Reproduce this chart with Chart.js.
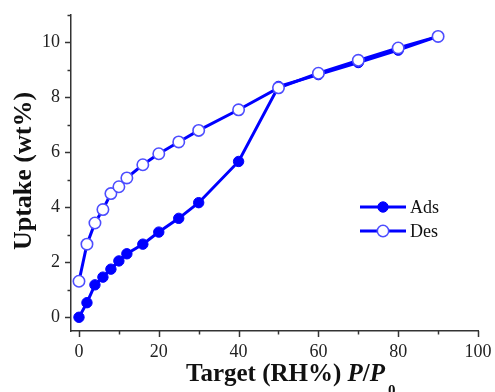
<!DOCTYPE html>
<html><head><meta charset="utf-8">
<script src="https://cdn.jsdelivr.net/npm/chart.js@4/dist/chart.umd.min.js"></script>
<style>html,body{margin:0;padding:0;background:#fff}</style>
</head><body>
<canvas id="c" width="495" height="392" style="width:495px;height:392px;display:block"></canvas>
<script>
const rh = [0, 2, 4, 6, 8, 10, 12, 16, 20, 25, 30, 40, 50, 60, 70, 80, 90];
const adsUptake = [0, 0.53, 1.18, 1.46, 1.75, 2.05, 2.31, 2.66, 3.1, 3.6, 4.17, 5.67, 8.4, 8.83, 9.27, 9.72, 10.22];
const desUptake = [1.31, 2.66, 3.43, 3.92, 4.5, 4.75, 5.07, 5.55, 5.95, 6.38, 6.8, 7.55, 8.35, 8.88, 9.35, 9.8, 10.22];
const xTickValues = [0, 10, 20, 30, 40, 50, 60, 70, 80, 90, 100];
const yTickValues = [0, 1, 2, 3, 4, 5, 6, 7, 8, 9, 10, 11];
const seriesNames = ['Ads', 'Des'];
const yTitle = 'Uptake (wt%)';
const xTitleParts = ['Target (RH%) ', 'P', '/', 'P', '0'];

const BLUE = '#0000ff';
const SERIF = '"Liberation Serif", "Times New Roman", serif';

const decorPlugin = {
  id: 'decor',
  afterDraw(chart) {
    const ctx = chart.ctx;
    const xs = chart.scales.x, ys = chart.scales.y;
    const ca = chart.chartArea;
    ctx.save();
    ctx.strokeStyle = '#333';
    ctx.lineWidth = 1.5;
    yTickValues.forEach(v => {
      const y = Math.round(ys.getPixelForValue(v)) + 0.5;
      const len = v % 2 === 0 ? 6 : 3.5;
      ctx.beginPath(); ctx.moveTo(ca.left, y); ctx.lineTo(ca.left - len, y); ctx.stroke();
    });
    xTickValues.forEach(v => {
      const x = Math.round(xs.getPixelForValue(v)) + 0.5;
      const len = v % 20 === 0 ? 6 : 3.5;
      ctx.beginPath(); ctx.moveTo(x, ca.bottom); ctx.lineTo(x, ca.bottom + len); ctx.stroke();
    });
    // legend
    const legY = [207, 231];
    chart.data.datasets.slice().sort((a,b)=>a.legendIndex-b.legendIndex).forEach((ds, i) => {
      const y = legY[i];
      ctx.strokeStyle = BLUE; ctx.lineWidth = 3;
      ctx.beginPath(); ctx.moveTo(360, y); ctx.lineTo(406, y); ctx.stroke();
      ctx.beginPath(); ctx.arc(383, y, ds.pointRadius, 0, Math.PI * 2);
      ctx.fillStyle = ds.pointBackgroundColor; ctx.fill();
      ctx.lineWidth = ds.pointBorderWidth; ctx.strokeStyle = ds.pointBorderColor; ctx.stroke();
      ctx.fillStyle = '#111';
      ctx.font = '18px ' + SERIF;
      ctx.textBaseline = 'middle'; ctx.textAlign = 'left';
      ctx.fillText(ds.label, 410, y + 1);
    });
    // x title
    ctx.fillStyle = '#111';
    ctx.textBaseline = 'alphabetic'; ctx.textAlign = 'left';
    const fN = 'bold 25px ' + SERIF, fI = 'italic bold 25px ' + SERIF, fS = 'bold 15px ' + SERIF;
    const fonts = [fN, fI, fN, fI, fS];
    let x = 186;
    const base = 381;
    xTitleParts.forEach((t, i) => {
      ctx.font = fonts[i];
      if (i === 4) x += 3;
      ctx.fillText(t, x, i === 4 ? base + 14 : base);
      x += ctx.measureText(t).width;
    });
    // y title
    ctx.save();
    ctx.translate(24, 171);
    ctx.rotate(-Math.PI / 2);
    ctx.font = 'bold 26px ' + SERIF;
    ctx.textAlign = 'center'; ctx.textBaseline = 'middle';
    ctx.fillText(yTitle, 0, 0);
    ctx.restore();
    ctx.restore();
  }
};

new Chart(document.getElementById('c'), {
  type: 'line',
  data: {
    datasets: [
      {
        label: seriesNames[0], legendIndex: 0, order: 2,
        data: rh.map((x, i) => ({ x, y: adsUptake[i] })),
        borderColor: BLUE, borderWidth: 3,
        pointRadius: 5.2, pointBackgroundColor: BLUE, pointBorderColor: BLUE, pointBorderWidth: 1,
        tension: 0
      },
      {
        label: seriesNames[1], legendIndex: 1, order: 1,
        data: rh.map((x, i) => ({ x, y: desUptake[i] })),
        borderColor: BLUE, borderWidth: 3,
        pointRadius: 5.7, pointBackgroundColor: '#ffffff', pointBorderColor: '#4d4dff', pointBorderWidth: 1.6,
        tension: 0
      }
    ]
  },
  options: {
    responsive: false, animation: false, devicePixelRatio: 1,
    layout: { padding: { top: 15, right: 17, left: 0, bottom: 0 } },
    plugins: { legend: { display: false }, tooltip: { enabled: false } },
    elements: { point: { hoverRadius: 6 } },
    scales: {
      x: {
        type: 'linear', min: -2, max: 100,
        afterBuildTicks: s => { s.ticks = xTickValues.map(v => ({ value: v })); },
        afterFit: s => { s.height = 61; s.paddingLeft = 0; s.paddingRight = 0; },
        grid: { display: false, drawTicks: false },
        border: { display: true, color: '#333', width: 1.5 },
        ticks: { padding: 10, color: '#222', font: { family: SERIF, size: 18 }, maxRotation: 0, autoSkip: false,
          callback: v => (v % 20 === 0 ? String(v) : '') }
      },
      y: {
        type: 'linear', min: -0.5, max: 11,
        afterBuildTicks: s => { s.ticks = yTickValues.map(v => ({ value: v })); },
        afterFit: s => { s.width = 71; s.paddingTop = 0; s.paddingBottom = 0; },
        grid: { display: false, drawTicks: false },
        border: { display: true, color: '#333', width: 1.5 },
        ticks: { padding: 11, color: '#222', font: { family: SERIF, size: 18 }, autoSkip: false,
          callback: v => (v % 2 === 0 ? String(v) : '') }
      }
    }
  },
  plugins: [decorPlugin]
});
</script>
</body></html>
